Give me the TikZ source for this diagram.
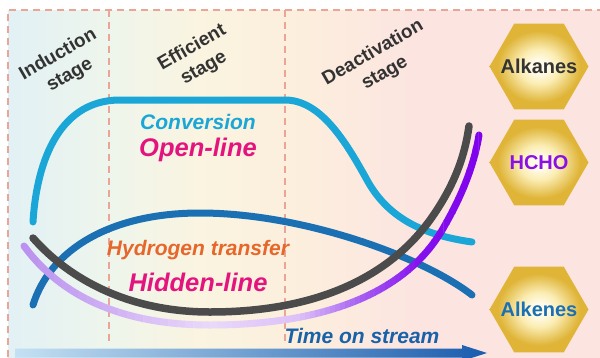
\documentclass[tikz,border=0pt]{standalone}
\usepackage{fontspec}
\setmainfont{Liberation Sans}
\usetikzlibrary{shapes.geometric}
\definecolor{bgA}{HTML}{E2F1F5}
\definecolor{bgB}{HTML}{EEF5EC}
\definecolor{bgC}{HTML}{FAF4E0}
\definecolor{bgD}{HTML}{FCEEDD}
\definecolor{bgE}{HTML}{FCE4E1}
\definecolor{dashc}{HTML}{EAA597}
\definecolor{convc}{HTML}{1AA7D7}
\definecolor{alkc}{HTML}{1A70B2}
\definecolor{grayc}{HTML}{4B4B4B}
\definecolor{openc}{HTML}{E4147E}
\definecolor{hydc}{HTML}{E7662A}
\definecolor{timec}{HTML}{1A62A8}
\definecolor{hexW}{HTML}{FFFBE8}
\definecolor{hexC}{HTML}{FBEDB4}
\definecolor{hexE}{HTML}{DFB437}
\definecolor{hchoc}{HTML}{8A10E6}
\definecolor{stagec}{HTML}{333333}
\definecolor{arrL}{HTML}{C4E0F3}
\definecolor{arrR}{HTML}{1A5CAE}
\definecolor{puA}{HTML}{B88EEE}
\definecolor{puB}{HTML}{CFB0F4}
\definecolor{puC}{HTML}{EAD9FA}
\definecolor{puD}{HTML}{DCC0F8}
\definecolor{puE}{HTML}{A860F2}
\definecolor{puF}{HTML}{8410EE}
\definecolor{puG}{HTML}{7E00EC}
\pgfdeclarehorizontalshading{bgshade}{100bp}{color(0bp)=(bgA); color(25bp)=(bgA); color(33.5bp)=(bgB); color(41bp)=(bgC); color(50bp)=(bgD); color(60bp)=(bgE); color(75bp)=(bgE); color(100bp)=(bgE)}
\pgfdeclareradialshading{hexshade}{\pgfpoint{0bp}{0bp}}{color(0bp)=(hexW); color(4bp)=(hexW); color(10bp)=(hexC); color(21bp)=(hexE); color(25bp)=(hexE); color(50bp)=(hexE)}
\def\purplepath{(24,246) .. controls (60,295) and (120,325) .. (210,325) .. controls (330,325) and (410,290) .. (445,225) .. controls (465,190) and (475,160) .. (479,135)}
\begin{document}
\begin{tikzpicture}[x=1pt,y=-1pt,
  dashln/.style={draw=dashc, line width=1.6pt, dash pattern=on 7pt off 5pt},
  curve/.style={line width=7pt, line cap=round},
  stagetxt/.style={font=\fontsize{19}{23.5}\selectfont\bfseries, text=stagec, align=center, rotate=30, inner sep=0pt},
  lbl/.style={font=\bfseries\itshape, inner sep=0pt},
  hexa/.style={regular polygon, regular polygon sides=6, minimum size=99pt, inner sep=0pt, outer sep=0pt, shading=hexshade},
  hextxt/.style={font=\fontsize{20}{24}\selectfont\bfseries, inner sep=0pt}]
\useasboundingbox (0,0) rectangle (600,357);
\fill[white] (0,0) rectangle (600,357);
\shade[shading=bgshade] (8,10) rectangle (600,357);
% dashed stage borders
\draw[dashln] (8,357) -- (8,10) -- (600,10);
\draw[dashln] (109,10) -- (109,345);
\draw[dashln] (285,10) -- (285,345);
% curves
\draw[curve, convc] (33,222) .. controls (36,170) and (55,100) .. (120,100) -- (285,100) .. controls (320,100) and (345,140) .. (367,180) .. controls (390,222) and (430,236) .. (472,242);
\draw[curve, alkc] (33,305) .. controls (50,250) and (110,213) .. (200,213) .. controls (300,213) and (420,255) .. (472,295);
\draw[curve, grayc, line width=7.5pt] (33,238) .. controls (70,280) and (130,312) .. (210,312) .. controls (320,312) and (390,275) .. (430,220) .. controls (455,185) and (465,155) .. (469,126);
\foreach \xa/\xb/\ca/\cb in {14/110/puA/puB, 110/210/puB/puC, 210/300/puC/puD, 300/360/puD/puE, 360/420/puE/puF, 420/490/puF/puG}{
  \foreach \k in {0,...,11}{
    \pgfmathsetmacro\xl{\xa+(\xb-\xa)*\k/12}
    \pgfmathsetmacro\xr{\xa+(\xb-\xa)*(\k+1)/12+0.4}
    \pgfmathtruncatemacro\pct{100-(\k+0.5)*100/12}
    \begin{scope}
      \clip (\xl,-10) rectangle (\xr,370);
      \draw[curve, draw=\ca!\pct!\cb] \purplepath;
    \end{scope}
  }
}
% stage labels
\node[stagetxt] (ind) at (64,65) {Induction\\stage};
\node[stagetxt] (eff) at (198,58) {Efficient\\stage};
\node[stagetxt] (deact) at (379,63) {Deactivation\\stage};
% curve labels
\node[lbl, text=convc, font=\fontsize{21}{25}\selectfont\bfseries\itshape] (conv) at (198,122) {Conversion};
\node[lbl, text=openc, font=\fontsize{25.5}{30}\selectfont\bfseries\itshape] (open) at (198,150) {Open-line};
\node[lbl, text=hydc, font=\fontsize{21}{25}\selectfont\bfseries\itshape] (hyd) at (198,250) {Hydrogen transfer};
\node[lbl, text=openc, font=\fontsize{25.5}{30}\selectfont\bfseries\itshape] (hid) at (198,282) {Hidden-line};
\node[lbl, text=timec, font=\fontsize{21}{25}\selectfont\bfseries\itshape] (tos) at (362,336) {Time on stream};
% products
\node[hexa] (alkanesHex) at (539,66.5) {};
\node[hextxt, text=stagec] (alkanes) at (alkanesHex.center) {Alkanes};
\node[hexa] (hchoHex) at (539,162.5) {};
\node[hextxt, text=hchoc] (hcho) at (hchoHex.center) {HCHO};
\node[hexa] (alkenesHex) at (539,309.5) {};
\node[hextxt, text=alkc] (alkenes) at (alkenesHex.center) {Alkenes};
% time axis arrow
\shade[left color=arrL, right color=arrR] (15,348.5) -- (462,348.5) -- (462,345) -- (487,353) -- (462,361) -- (462,357.5) -- (15,357.5) -- cycle;
\end{tikzpicture}
\end{document}
